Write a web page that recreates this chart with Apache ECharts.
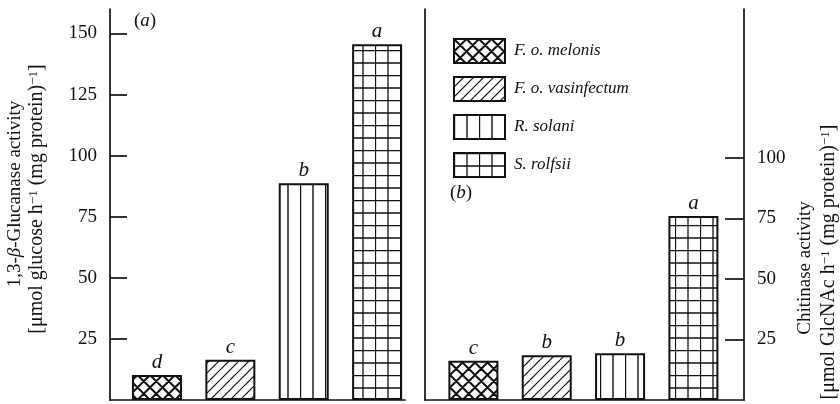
<!DOCTYPE html>
<html>
<head>
<meta charset="utf-8">
<script src="https://cdn.jsdelivr.net/npm/echarts@6/dist/echarts.min.js"></script>
<style>
  html, body { margin: 0; padding: 0; background: #fff; }
  #chart { width: 840px; height: 404px; }
</style>
</head>
<body>
<div id="chart"></div>
<script>
// data
var species = ['F. o. melonis', 'F. o. vasinfectum', 'R. solani', 'S. rolfsii'];
var glucanase = [10.2, 16.5, 88.7, 145.6];
var glucanaseLetters = ['d', 'c', 'b', 'a'];
var chitinase = [16.2, 18.5, 19.3, 76];
var chitinaseLetters = ['c', 'b', 'b', 'a'];
var leftTicks = [25, 50, 75, 100, 125, 150];
var rightTicks = [25, 50, 75, 100];

var FONT = 'Liberation Serif';
var INK = '#111';

// hatch fills, one per fungus
function makePattern(kind) {
  var size = kind === 'diag' ? 20 : 25;
  var c = document.createElement('canvas');
  c.width = size; c.height = size;
  var g = c.getContext('2d');
  g.fillStyle = '#fff';
  g.fillRect(0, 0, size, size);
  g.strokeStyle = INK;
  g.beginPath();
  if (kind === 'cross') {
    g.lineWidth = 2;
    for (var k = -3; k <= 3; k++) {
      g.moveTo(k * 12.5, 0); g.lineTo(k * 12.5 + 25, 25);
      g.moveTo(k * 12.5, 25); g.lineTo(k * 12.5 + 25, 0);
    }
  } else if (kind === 'diag') {
    g.lineWidth = 1.2;
    for (var j = -3; j <= 5; j++) {
      g.moveTo(j * 10, 20); g.lineTo(j * 10 + 20, 0);
    }
  } else if (kind === 'vert') {
    g.lineWidth = 1.4;
    g.moveTo(0.5, 0); g.lineTo(0.5, 25);
    g.moveTo(13, 0); g.lineTo(13, 25);
  } else {
    g.lineWidth = 1.3;
    g.moveTo(0.5, 0); g.lineTo(0.5, 25);
    g.moveTo(13, 0); g.lineTo(13, 25);
    g.moveTo(0, 0.5); g.lineTo(25, 0.5);
    g.moveTo(0, 13); g.lineTo(25, 13);
  }
  g.stroke();
  return { image: c, repeat: 'repeat' };
}
var patterns = [makePattern('cross'), makePattern('diag'), makePattern('vert'), makePattern('grid')];

function barSeries(panel, values, letters) {
  return species.map(function (name, i) {
    return {
      type: 'bar',
      name: name,
      xAxisIndex: panel,
      yAxisIndex: panel,
      data: [[i + 1, values[i]]],
      barWidth: 50,
      barGap: '-100%',
      itemStyle: { color: patterns[i], borderColor: INK, borderWidth: 2 },
      label: {
        show: true,
        position: 'top',
        distance: 2,
        formatter: letters[i],
        fontFamily: FONT,
        fontStyle: 'italic',
        fontSize: 21,
        color: INK
      }
    };
  });
}

var chart = echarts.init(document.getElementById('chart'));

var lineStyle = { color: INK, width: 1.7 };
var tickLabel = { fontFamily: FONT, fontSize: 19, color: INK, margin: 13 };
var rich = {
  n: { fontFamily: FONT, fontSize: 19, fill: INK },
  i: { fontFamily: FONT, fontStyle: 'italic', fontSize: 19, fill: INK },
  m: { fontFamily: FONT, fontSize: 20, fill: INK },
  s: { fontFamily: FONT, fontSize: 13, fill: INK, verticalAlign: 'top' }
};

function xAxisFor(grid, min, max) {
  return {
    type: 'value', gridIndex: grid, min: min, max: max,
    axisLine: { show: true, onZero: false, lineStyle: lineStyle },
    axisTick: { show: false }, axisLabel: { show: false }, splitLine: { show: false }
  };
}

chart.setOption({
  backgroundColor: '#fff',
  animation: false,
  grid: [
    { left: 110, width: 295, top: 9, bottom: 4 },
    { left: 425, width: 319, top: 9, bottom: 4 }
  ],
  xAxis: [xAxisFor(0, 0.36, 4.38), xAxisFor(1, 0.34, 4.69)],
  yAxis: [
    {
      type: 'value', gridIndex: 0, position: 'left', min: 0, max: 160,
      axisLine: { show: true, lineStyle: lineStyle },
      axisTick: { show: true, inside: true, length: 17, lineStyle: lineStyle, customValues: leftTicks },
      axisLabel: Object.assign({ customValues: leftTicks }, tickLabel),
      splitLine: { show: false }
    },
    {
      type: 'value', gridIndex: 1, position: 'right', min: 0, max: 161.5,
      axisLine: { show: true, lineStyle: lineStyle },
      axisTick: { show: true, inside: true, length: 19, lineStyle: lineStyle, customValues: rightTicks },
      axisLabel: Object.assign({ customValues: rightTicks }, tickLabel),
      splitLine: { show: false }
    },
    {
      // left border of panel (b)
      type: 'value', gridIndex: 1, position: 'left', min: 0, max: 1,
      axisLine: { show: true, lineStyle: lineStyle },
      axisTick: { show: false }, axisLabel: { show: false }, splitLine: { show: false }
    }
  ],
  legend: {
    data: species,
    orient: 'vertical',
    left: 448,
    top: 33,
    icon: 'rect',
    itemWidth: 51,
    itemHeight: 24,
    itemGap: 12,
    selectedMode: false,
    itemStyle: { borderColor: INK, borderWidth: 2 },
    textStyle: { fontFamily: FONT, fontStyle: 'italic', fontSize: 17, color: INK, padding: [0, 0, 0, 4] }
  },
  graphic: [
    {
      type: 'text', x: 145, y: 21,
      style: { text: '{n|(}{i|a}{n|)}', align: 'center', verticalAlign: 'middle', rich: rich }
    },
    {
      type: 'text', x: 461, y: 193,
      style: { text: '{n|(}{i|b}{n|)}', align: 'center', verticalAlign: 'middle', rich: rich }
    },
    {
      type: 'text', x: 15, y: 194, rotation: Math.PI / 2,
      style: { text: '{n|1,3-}{i|β}{n|-Glucanase activity}', align: 'center', verticalAlign: 'middle', rich: rich }
    },
    {
      type: 'text', x: 37, y: 199, rotation: Math.PI / 2,
      style: {
        text: '{m|[μmol glucose h}{s|−1}{m| (mg protein)}{s|−1}{m|]}',
        align: 'center', verticalAlign: 'middle', rich: rich
      }
    },
    {
      type: 'text', x: 805, y: 268, rotation: Math.PI / 2,
      style: { text: 'Chitinase activity', align: 'center', verticalAlign: 'middle', fontFamily: FONT, fontSize: 19, fill: INK }
    },
    {
      type: 'text', x: 829, y: 262, rotation: Math.PI / 2,
      style: {
        text: '{m|[μmol GlcNAc h}{s|−1}{m| (mg protein)}{s|−1}{m|]}',
        align: 'center', verticalAlign: 'middle', rich: rich
      }
    }
  ],
  series: barSeries(0, glucanase, glucanaseLetters).concat(barSeries(1, chitinase, chitinaseLetters))
});
</script>
</body>
</html>
